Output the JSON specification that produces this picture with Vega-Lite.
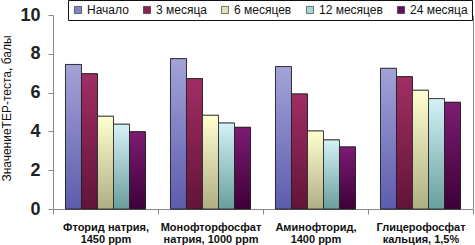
{
  "$schema": "https://vega.github.io/schema/vega-lite/v6.json",
  "width": 420,
  "height": 194,
  "autosize": {"type": "none"},
  "padding": {"left": 53, "top": 15, "right": 2, "bottom": 36},
  "background": "white",
  "config": {"font": "Liberation Sans", "view": {"stroke": null}},
  "data": {
    "values": [
      {"group": "Фторид натрия,\n1450 ppm", "period": "Начало", "value": 7.45},
      {"group": "Фторид натрия,\n1450 ppm", "period": "3 месяца", "value": 6.97},
      {"group": "Фторид натрия,\n1450 ppm", "period": "6 месяцев", "value": 4.78},
      {"group": "Фторид натрия,\n1450 ppm", "period": "12 месяцев", "value": 4.37},
      {"group": "Фторид натрия,\n1450 ppm", "period": "24 месяца", "value": 3.98},
      {"group": "Монофторфосфат\nнатрия, 1000 ppm", "period": "Начало", "value": 7.75},
      {"group": "Монофторфосфат\nнатрия, 1000 ppm", "period": "3 месяца", "value": 6.72},
      {"group": "Монофторфосфат\nнатрия, 1000 ppm", "period": "6 месяцев", "value": 4.83},
      {"group": "Монофторфосфат\nнатрия, 1000 ppm", "period": "12 месяцев", "value": 4.43},
      {"group": "Монофторфосфат\nнатрия, 1000 ppm", "period": "24 месяца", "value": 4.21},
      {"group": "Аминофторид,\n1400 ppm", "period": "Начало", "value": 7.34},
      {"group": "Аминофторид,\n1400 ppm", "period": "3 месяца", "value": 5.93},
      {"group": "Аминофторид,\n1400 ppm", "period": "6 месяцев", "value": 4.02},
      {"group": "Аминофторид,\n1400 ppm", "period": "12 месяцев", "value": 3.56},
      {"group": "Аминофторид,\n1400 ppm", "period": "24 месяца", "value": 3.2},
      {"group": "Глицерофосфат\nкальция, 1,5%", "period": "Начало", "value": 7.25},
      {"group": "Глицерофосфат\nкальция, 1,5%", "period": "3 месяца", "value": 6.82},
      {"group": "Глицерофосфат\nкальция, 1,5%", "period": "6 месяцев", "value": 6.12},
      {"group": "Глицерофосфат\nкальция, 1,5%", "period": "12 месяцев", "value": 5.69},
      {"group": "Глицерофосфат\nкальция, 1,5%", "period": "24 месяца", "value": 5.5}
    ]
  },
  "encoding": {
    "x": {
      "field": "group",
      "type": "nominal",
      "sort": null,
      "scale": {"paddingInner": 0, "paddingOuter": 0},
      "axis": {
        "title": null,
        "labelAngle": 0,
        "labelExpr": "split(datum.label, '\\n')",
        "labelFont": "Liberation Sans",
        "labelFontSize": 11,
        "labelFontWeight": "bold",
        "labelColor": "#111111",
        "labelLineHeight": 12.5,
        "labelPadding": 7,
        "tickBand": "extent",
        "tickSize": 5,
        "tickColor": "#888888",
        "domainColor": "#888888",
        "labelLimit": 0
      }
    },
    "xOffset": {
      "field": "period",
      "type": "nominal",
      "sort": ["Начало", "3 месяца", "6 месяцев", "12 месяцев", "24 месяца"],
      "scale": {"paddingInner": 0, "paddingOuter": 0.78}
    }
  },
  "layer": [
    {
      "mark": {"type": "bar", "stroke": "#222222", "strokeWidth": 0.8},
      "encoding": {
        "y": {
          "field": "value",
          "type": "quantitative",
          "scale": {"domain": [0, 10]},
          "axis": {
            "title": "ЗначениеТЕР-теста, балы",
            "titleFont": "Liberation Sans",
            "titleFontSize": 12,
            "titleFontWeight": "normal",
            "titleColor": "#111111",
            "titlePadding": 6,
            "titleY": 93,
            "values": [0, 2, 4, 6, 8, 10],
            "labelFont": "Liberation Sans",
            "labelFontSize": 18,
            "labelFontWeight": "bold",
            "labelColor": "#222222",
            "labelPadding": 8,
            "tickSize": 5,
            "tickColor": "#888888",
            "domainColor": "#888888",
            "grid": false
          }
        },
        "color": {
          "field": "period",
          "type": "nominal",
          "scale": {
            "domain": ["Начало", "3 месяца", "6 месяцев", "12 месяцев", "24 месяца"],
            "range": ["#8484c8", "#8a2454", "#e4e3b4", "#a6d4d8", "#621060"]
          },
          "legend": {
            "title": null,
            "orient": "none",
            "legendX": 15,
            "legendY": -15,
            "direction": "horizontal",
            "columns": 5,
            "columnPadding": 12,
            "padding": 4,
            "fillColor": "white",
            "strokeColor": "#111111",
            "symbolType": "square",
            "symbolSize": 50,
            "symbolOpacity": 1,
            "symbolStrokeColor": "#222222",
            "symbolStrokeWidth": 0.6,
            "labelFont": "Liberation Sans",
            "labelFontSize": 12,
            "labelColor": "#111111",
            "labelOffset": 3
          }
        }
      }
    },
    {
      "mark": {"type": "bar", "stroke": "#222222", "strokeWidth": 0.8},
      "encoding": {
        "y": {"field": "value", "type": "quantitative", "scale": {"domain": [0, 10]}, "axis": null},
        "fill": {
          "condition": [
            {"test": "datum.period === 'Начало'", "value": {"gradient": "linear", "x1": 0, "y1": 0, "x2": 0, "y2": 1, "stops": [{"offset": 0, "color": "#a3a3d8"}, {"offset": 1, "color": "#5c5cae"}]}},
            {"test": "datum.period === '3 месяца'", "value": {"gradient": "linear", "x1": 0, "y1": 0, "x2": 0, "y2": 1, "stops": [{"offset": 0, "color": "#a02e64"}, {"offset": 1, "color": "#62143a"}]}},
            {"test": "datum.period === '6 месяцев'", "value": {"gradient": "linear", "x1": 0, "y1": 0, "x2": 0, "y2": 1, "stops": [{"offset": 0, "color": "#ffffd0"}, {"offset": 1, "color": "#b0ae84"}]}},
            {"test": "datum.period === '12 месяцев'", "value": {"gradient": "linear", "x1": 0, "y1": 0, "x2": 0, "y2": 1, "stops": [{"offset": 0, "color": "#d4f2f6"}, {"offset": 1, "color": "#6a9e9e"}]}}
          ],
          "value": {"gradient": "linear", "x1": 0, "y1": 0, "x2": 0, "y2": 1, "stops": [{"offset": 0, "color": "#7c1c72"}, {"offset": 1, "color": "#3e0038"}]}
        }
      }
    },
    {
      "mark": {"type": "rule", "opacity": 0},
      "encoding": {
        "y": {
          "field": "value",
          "type": "quantitative",
          "scale": {"domain": [0, 10]},
          "axis": {"orient": "right", "labels": false, "ticks": false, "title": null, "grid": false, "domainColor": "#888888"}
        }
      }
    }
  ],
  "resolve": {"axis": {"y": "independent"}}
}
